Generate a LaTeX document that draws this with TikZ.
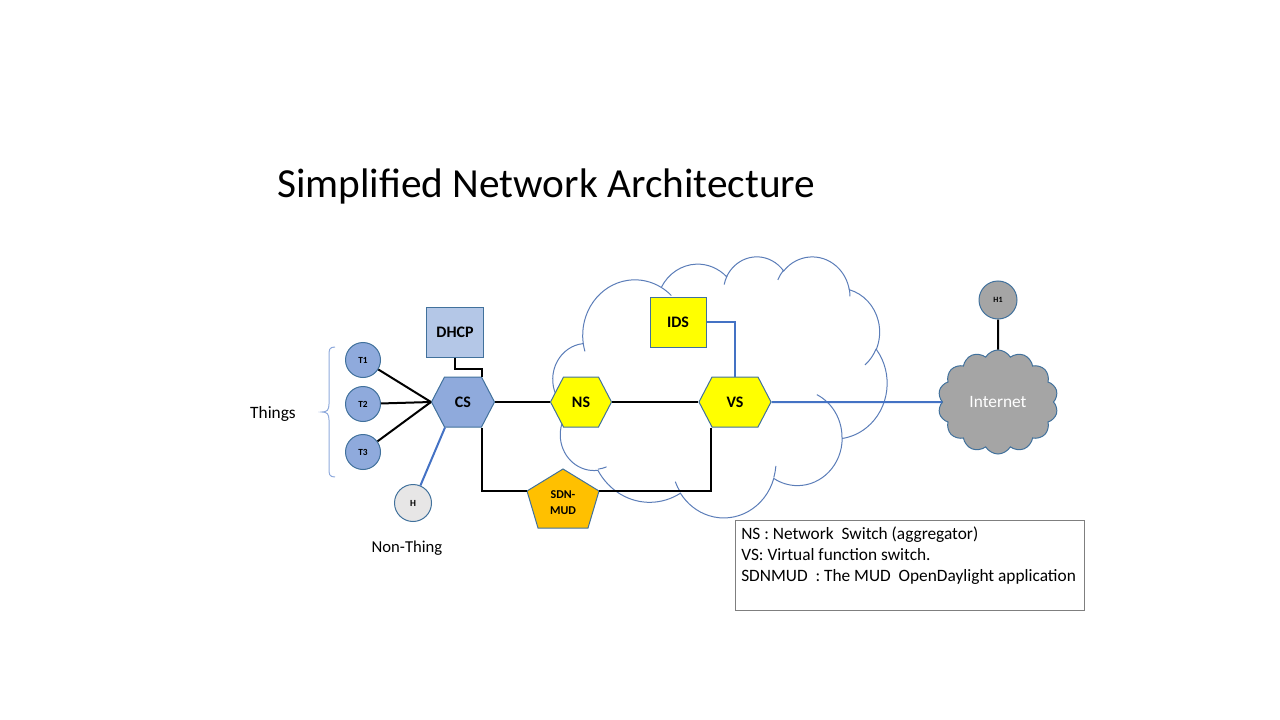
\documentclass[tikz,border=0pt]{standalone}
\usepackage{fontspec}
\setmainfont{Carlito}
\usetikzlibrary{shapes.geometric,shapes.symbols}
\definecolor{bord}{HTML}{41719C}
\definecolor{csblue}{HTML}{8FAADC}
\definecolor{dhcpblue}{HTML}{B4C7E7}
\definecolor{linkblue}{HTML}{4472C4}
\definecolor{cloudline}{HTML}{5B7DB8}
\definecolor{ylw}{HTML}{FFFF00}
\definecolor{mud}{HTML}{FFC000}
\definecolor{inetgray}{HTML}{A5A5A5}
\definecolor{hgray}{HTML}{E7E6E6}
\definecolor{bracec}{HTML}{8FAADC}
\definecolor{legbord}{HTML}{7F7F7F}
% arc of a preset (OOXML) cloud: #1 name, #2 wR, #3 hR, #4 start angle, #5 sweep (visual angles)
\newcommand\pptarcdef[5]{%
  \pgfmathsetmacro\pptta{atan2(#2*sin(#4), #3*cos(#4))}%
  \pgfmathsetmacro\ppttb{atan2(#2*sin(#4+#5), #3*cos(#4+#5))}%
  \pgfmathsetmacro\ppttd{mod(\ppttb-\pptta+720,360)}%
  \expandafter\xdef\csname ca#1\endcsname{arc[x radius=#2, y radius=#3, start angle=\pptta, delta angle=\ppttd]}%
}
\begin{document}
\begin{tikzpicture}[x=0.75pt,y=-0.75pt,
  hexa/.style={signal, signal to=east and west, signal pointer angle=125,
    draw=bord, line width=0.75pt, minimum height=37.5pt, inner sep=0pt,
    font=\bfseries\fontsize{12}{14}\selectfont},
  thing/.style={circle, draw=bord, line width=0.75pt, fill=csblue, minimum size=26.25pt,
    inner sep=0pt, font=\bfseries\fontsize{7}{8}\selectfont},
  sq/.style={rectangle, draw=bord, line width=0.75pt, inner sep=0pt,
    font=\bfseries\fontsize{12}{14}\selectfont},
  blk/.style={draw=black, line width=1.5pt},
  blu/.style={draw=linkblue, line width=1.5pt},
  lbl/.style={font=\fontsize{13}{15}\selectfont, inner sep=0pt},
  cloudstroke/.style={draw=cloudline, line width=0.75pt}
]
\useasboundingbox (0,0) rectangle (1280,720);

% title
\node[anchor=base west, inner sep=0pt, font=\fontsize{31}{36}\selectfont] (title) at (277,198) {Simplified Network Architecture};

% big cloud (OOXML preset cloud geometry, frame 553,256 -- 887,517)
\pptarcdef{A}{67.53}{91.90}{-190.4875}{123.7805}
\pptarcdef{B}{53.33}{72.67}{-144.1024}{89.9452}
\pptarcdef{C}{43.65}{59.45}{-145.8079}{99.7230}
\pptarcdef{D}{48.57}{65.95}{-130.9861}{117.2417}
\pptarcdef{E}{53.33}{72.73}{-78.7089}{109.0269}
\pptarcdef{F}{67.75}{92.20}{-46.2673}{130.2690}
\pptarcdef{G}{57.85}{78.67}{0.6250}{114.0333}
\pptarcdef{H}{67.52}{92.15}{22.4516}{115.1726}
\pptarcdef{I}{77.20}{105.43}{66.2426}{75.7110}
\pptarcdef{J}{43.60}{59.18}{-274.9421}{146.7356}
\pptarcdef{K}{43.45}{59.45}{-246.8285}{152.5189}
\pptarcdef{a}{43.45}{59.45}{86.7420}{26.4295}
\pptarcdef{b}{43.60}{59.18}{73.6105}{11.4475}
\pptarcdef{c}{67.52}{92.15}{137.6242}{14.0811}
\pptarcdef{d}{67.52}{92.15}{6.4533}{15.9984}
\pptarcdef{e}{57.85}{78.67}{-70.2924}{70.9174}
\pptarcdef{f}{53.33}{72.73}{30.3180}{27.7515}
\pptarcdef{g}{48.57}{65.95}{-13.7443}{14.8589}
\pptarcdef{h}{48.57}{65.95}{-149.1815}{18.1954}
\pptarcdef{i}{43.65}{59.45}{-163.4943}{17.6864}
\pptarcdef{j}{67.53}{91.90}{-66.7070}{12.3194}
\pptarcdef{k}{67.53}{91.90}{157.6544}{11.8582}
\begin{scope}[shift={(553,256)}, x=0.579861pt, y=-0.453125pt]
  \draw[cloudstroke] (39.00,143.70) \caA \caB \caC \caD \caE \caF \caG \caH \caI \caJ \caK -- cycle;
  \draw[cloudstroke] (46.93,261.77) \caa;
  \draw[cloudstroke] (69.28,348.99) \cab;
  \draw[cloudstroke] (164.78,390.90) \cac;
  \draw[cloudstroke] (288.27,347.51) \cad;
  \draw[cloudstroke] (341.29,229.54) \cae;
  \draw[cloudstroke] (417.98,153.54) \caf;
  \draw[cloudstroke] (383.24,54.26) \cag;
  \draw[cloudstroke] (290.78,39.52) \cah;
  \draw[cloudstroke] (221.41,47.20) \cai;
  \draw[cloudstroke] (140.00,51.92) \caj;
  \draw[cloudstroke] (41.27,157.89) \cak;
\end{scope}

% internet cloud
\node[cloud, cloud puffs=14, cloud puff arc=120, aspect=1.1, draw=bord, fill=inetgray, line width=0.75pt,
  minimum width=90pt, minimum height=78pt, inner sep=0pt, text=white,
  font=\fontsize{13}{15}\selectfont] (inet) at (998,402) {Internet};

% things
\node[thing] (T1) at (363,360) {T1};
\node[thing] (T2) at (363,404) {T2};
\node[thing] (T3) at (363,452) {T3};
\node[thing, fill=hgray, minimum size=27.75pt] (H) at (413,503) {H};
\node[thing, fill=inetgray, minimum size=28.5pt, font=\bfseries\fontsize{6}{7}\selectfont] (H1) at (998,300) {H1};

% brace
\draw[draw=bracec, line width=0.75pt] (335,347) .. controls (329,347) and (329,350) .. (329,356)
  -- (329,404) .. controls (329,410) and (327,412) .. (322,412)
  .. controls (327,412) and (329,414) .. (329,420) -- (329,468)
  .. controls (329,474) and (329,477) .. (335,477);
\node[lbl] (things) at (273,414) {Things};
\node[lbl, font=\fontsize{12.5}{15}\selectfont] (nonthing) at (407,548) {Non-Thing};

% switches
\node[hexa, fill=csblue, minimum width=47.25pt] (CS) at (463,402) {CS};
\node[hexa, fill=ylw, minimum width=45.75pt] (NS) at (581,402) {NS};
\node[hexa, fill=ylw, minimum width=54pt] (VS) at (735,402) {VS};

\node[sq, fill=dhcpblue, minimum width=42.75pt, minimum height=37.5pt] (DHCP) at (455,332) {DHCP};
\node[sq, fill=ylw, minimum width=42pt, minimum height=37.5pt] (IDS) at (678,322) {IDS};

% SDN-MUD pentagon
\coordinate (SDNt) at (563,469);
\coordinate (SDNr) at (599,491);
\coordinate (SDNbr) at (588,528);
\coordinate (SDNbl) at (538,528);
\coordinate (SDNl) at (527,491);
\draw[fill=mud, draw=bord, line width=0.75pt] (SDNt) -- (SDNr) -- (SDNbr) -- (SDNbl) -- (SDNl) -- cycle;
\node[align=center, inner sep=0pt, font=\bfseries\fontsize{9}{12}\selectfont] (SDNtxt) at (563,503) {SDN-\\MUD};

% connectors
\draw[blk] (T1) -- (CS.west);
\draw[blk] (T2) -- (CS.west);
\draw[blk] (T3) -- (CS.west);
\draw[blu] (H) -- ([xshift=-13.5pt]CS.south);
\draw[blk] (DHCP.south) -- ++(0,11) -| ([xshift=14.25pt]CS.north);
\draw[blk] (CS.east) -- (NS.west);
\draw[blk] (NS.east) -- (VS.west);
\draw[blu] (IDS.east) -| (VS.north);
\draw[blu] (VS.east) -- (inet.west);
\draw[blk] (H1) -- (inet.north);
\draw[blk] ([xshift=14.25pt]CS.south) |- (SDNl);
\draw[blk] (SDNr) -| ([xshift=-18pt]VS.south);

% legend
\node[draw=legbord, line width=0.75pt, anchor=north west, minimum width=261.75pt, minimum height=67.5pt, inner sep=0pt] (legend) at (735,520) {};
\node[anchor=north west, align=left, inner sep=0pt, font=\fontsize{13}{15.75}\selectfont] (legtxt) at (741,527)
  {NS : Network\ \ Switch (aggregator)\\VS: Virtual function switch.\\SDNMUD\ \ : The MUD\ \ OpenDaylight application};
\end{tikzpicture}
\end{document}
